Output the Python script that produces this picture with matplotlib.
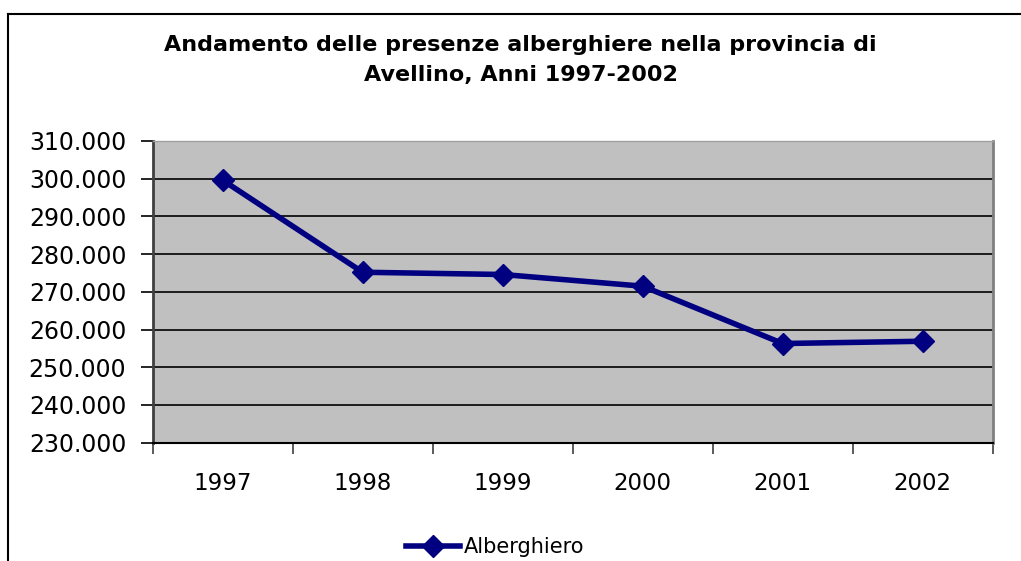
import matplotlib.pyplot as plt
from matplotlib.lines import Line2D
from matplotlib.ticker import FuncFormatter, FixedLocator

years = ['1997', '1998', '1999', '2000', '2001', '2002']
presenze = [299600, 275200, 274600, 271500, 256300, 256900]
serie = 'Alberghiero'
titolo = 'Andamento delle presenze alberghiere nella provincia di\nAvellino, Anni 1997-2002'

plt.rcParams['font.family'] = ['DejaVu Sans']

fig = plt.figure(figsize=(10.21, 5.61), dpi=100)
ax = fig.add_axes([152.7 / 1021, 1 - 442.7 / 561, 840 / 1021, 301.7 / 561])
ax.set_facecolor('#C0C0C0')

x = list(range(len(years)))
ax.plot(x, presenze, color='#000080', linewidth=4, marker='D', markersize=11,
        markeredgecolor='#000080', label=serie, zorder=3)

ax.set_xlim(-0.5, len(years) - 0.5)
ax.set_ylim(230000, 310000)
ax.set_yticks(range(230000, 310001, 10000))
ax.yaxis.set_major_formatter(FuncFormatter(lambda v, p: f'{int(v):,}'.replace(',', '.')))
ax.grid(axis='y', color='black', linewidth=1.2)
ax.set_axisbelow(True)

ax.set_xticks(x)
ax.set_xticklabels(years)
ax.xaxis.set_minor_locator(FixedLocator([i - 0.5 for i in range(len(years) + 1)]))
ax.tick_params(axis='x', which='major', length=0, pad=21, labelsize=16.5)
ax.tick_params(axis='x', which='minor', length=8, width=1.2, color='#404040', direction='out')
ax.tick_params(axis='y', length=9, width=1.2, pad=10, labelsize=17)

ax.spines['left'].set_color('#404040')
ax.spines['left'].set_linewidth(2)
ax.spines['bottom'].set_color('black')
ax.spines['bottom'].set_linewidth(1.5)
ax.spines['right'].set_color('#808080')
ax.spines['right'].set_linewidth(2)
ax.spines['top'].set_color('#A0A0A0')
ax.spines['top'].set_linewidth(1)

fig.text(0.51, 1 - 35 / 561, titolo, ha='center', va='top', fontsize=16,
         fontweight='bold', linespacing=1.65)

fig.legend(loc='center', bbox_to_anchor=(0.485, 1 - 547 / 561), frameon=False,
           fontsize=15, handlelength=2.6, handletextpad=0.2)

# cornice del grafico
fig.add_artist(Line2D([8 / 1021, 1.0], [1 - 13.5 / 561] * 2, color='black', linewidth=1.5,
                      transform=fig.transFigure))
fig.add_artist(Line2D([8 / 1021] * 2, [0.0, 1 - 13.5 / 561], color='black', linewidth=1.5,
                      transform=fig.transFigure))

fig.savefig('out.png', dpi=100)
